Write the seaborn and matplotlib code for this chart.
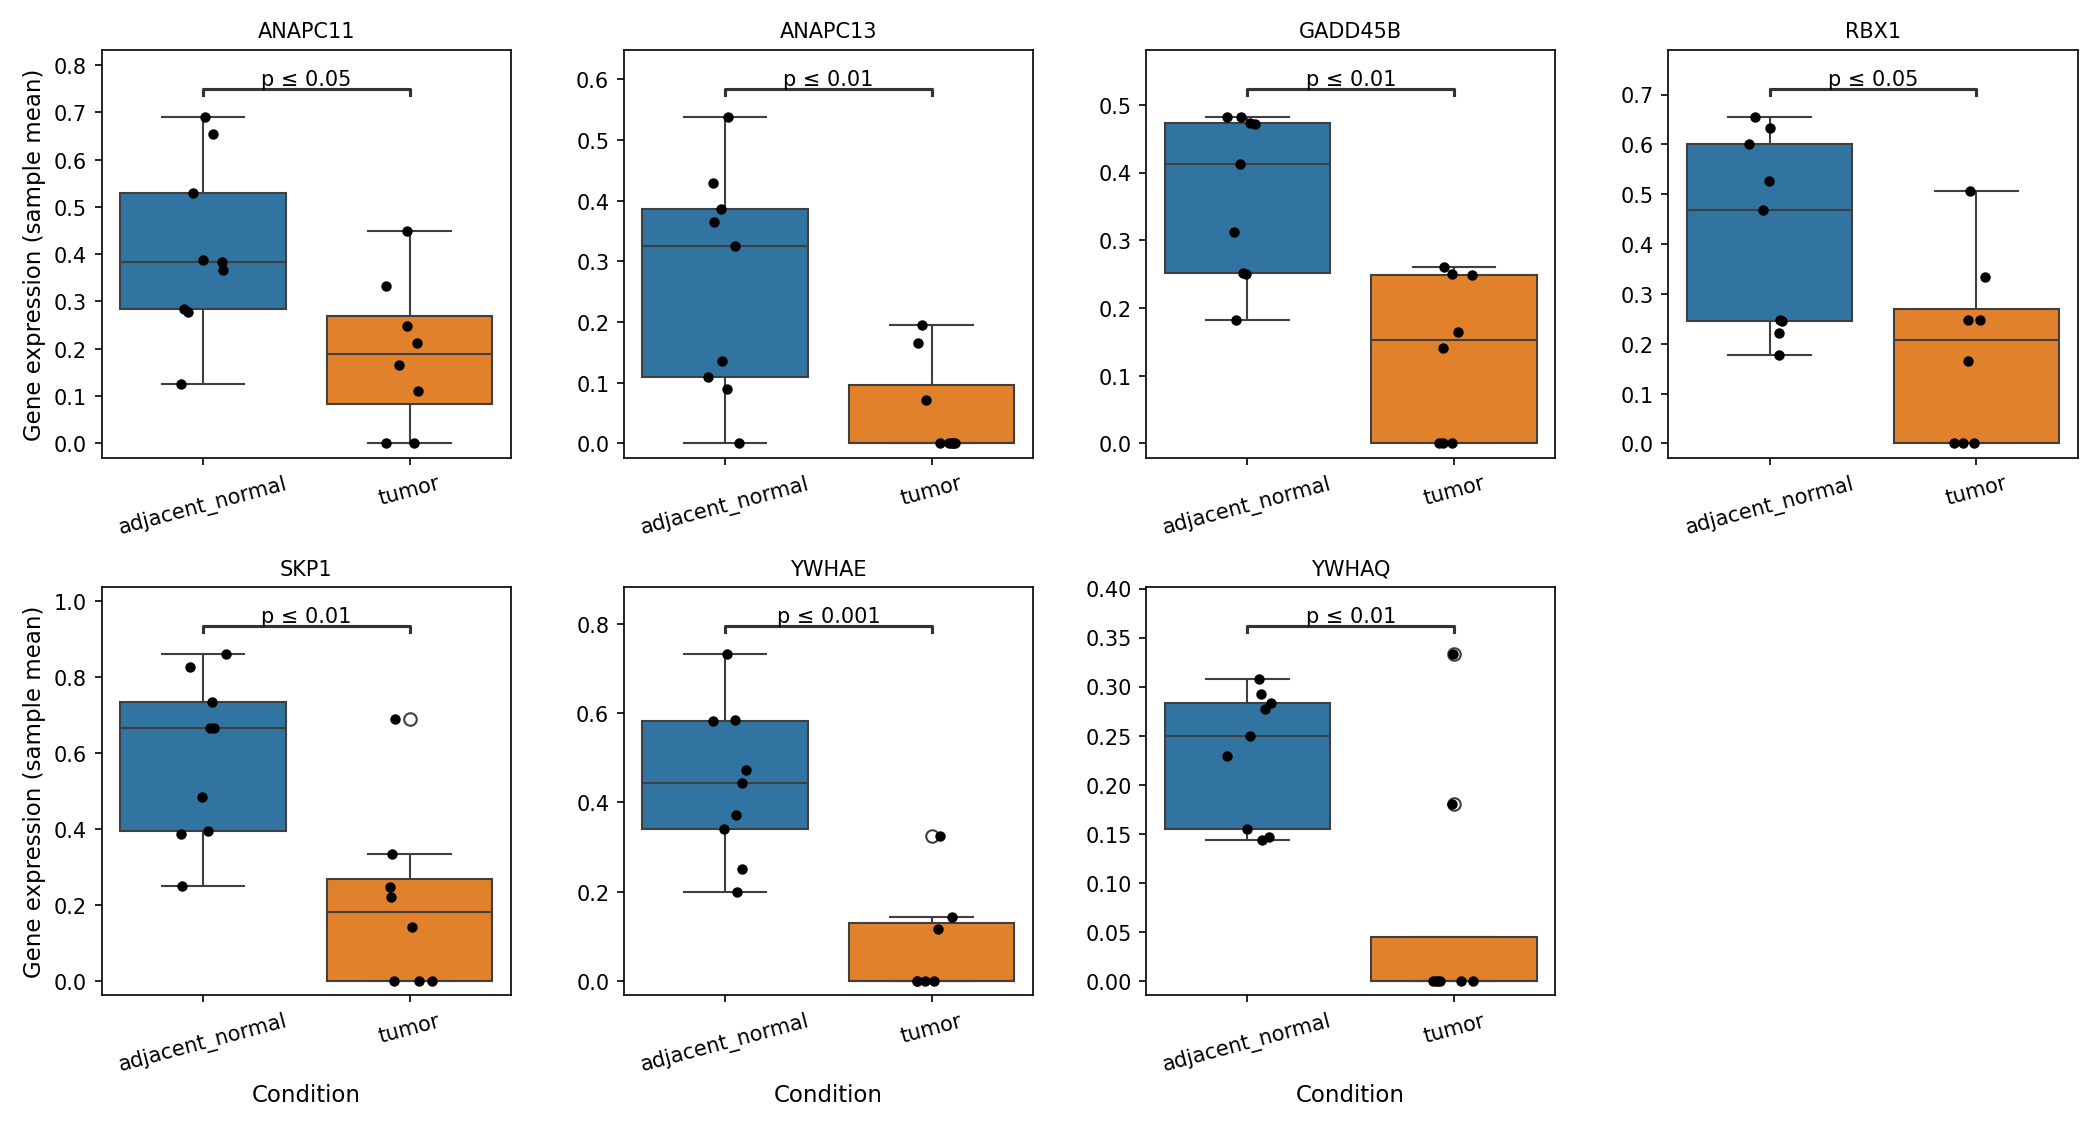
import numpy as np
import pandas as pd
import matplotlib
matplotlib.use("Agg")
import matplotlib.pyplot as plt
import seaborn as sns

genes = ["ANAPC11", "ANAPC13", "GADD45B", "RBX1", "SKP1", "YWHAE", "YWHAQ"]
pvals = ["p ≤ 0.05", "p ≤ 0.01", "p ≤ 0.01", "p ≤ 0.05", "p ≤ 0.01", "p ≤ 0.001", "p ≤ 0.01"]
conditions = ["adjacent_normal", "tumor"]

normal = {
    "ANAPC11": [0.69, 0.655, 0.53, 0.387, 0.383, 0.366, 0.285, 0.277, 0.125],
    "ANAPC13": [0.538, 0.43, 0.387, 0.365, 0.325, 0.135, 0.11, 0.09, 0.0],
    "GADD45B": [0.482, 0.482, 0.471, 0.473, 0.413, 0.312, 0.251, 0.25, 0.182],
    "RBX1": [0.655, 0.632, 0.6, 0.527, 0.468, 0.248, 0.246, 0.222, 0.177],
    "SKP1": [0.86, 0.826, 0.733, 0.665, 0.665, 0.484, 0.393, 0.386, 0.249],
    "YWHAE": [0.733, 0.585, 0.583, 0.472, 0.444, 0.373, 0.341, 0.25, 0.2],
    "YWHAQ": [0.308, 0.292, 0.283, 0.277, 0.25, 0.229, 0.155, 0.147, 0.143],
}
tumor = {
    "ANAPC11": [0.45, 0.333, 0.248, 0.213, 0.166, 0.11, 0.0, 0.0],
    "ANAPC13": [0.195, 0.166, 0.072, 0.0, 0.0, 0.0, 0.0, 0.0],
    "GADD45B": [0.26, 0.25, 0.249, 0.165, 0.141, 0.0, 0.0, 0.0],
    "RBX1": [0.507, 0.333, 0.248, 0.248, 0.165, 0.0, 0.0, 0.0],
    "SKP1": [0.688, 0.333, 0.247, 0.22, 0.142, 0.0, 0.0, 0.0],
    "YWHAE": [0.325, 0.142, 0.115, 0.0, 0.0, 0.0, 0.0],
    "YWHAQ": [0.333, 0.18, 0.0, 0.0, 0.0, 0.0, 0.0, 0.0],
}

np.random.seed(3)

fig, axes = plt.subplots(2, 4, figsize=(14, 7.533), dpi=150)
axes = axes.ravel()
for i, g in enumerate(genes):
    ax = axes[i]
    df = pd.DataFrame({
        "Condition": [conditions[0]] * len(normal[g]) + [conditions[1]] * len(tumor[g]),
        "value": normal[g] + tumor[g],
    })
    sns.boxplot(data=df, x="Condition", y="value", hue="Condition", order=conditions,
                palette=["#1f77b4", "#ff7f0e"], saturation=0.75, ax=ax, legend=False,
                flierprops=dict(marker="o", markersize=6))
    sns.stripplot(data=df, x="Condition", y="value", order=conditions, color="black",
                  size=5, jitter=0.12, ax=ax)
    ymax = max(normal[g] + tumor[g])
    yb = ymax * 1.087
    h = ymax * 0.02
    ax.plot([0, 0, 1, 1], [yb - h, yb, yb, yb - h], color="#333333", lw=1.5)
    ax.text(0.5, yb, pvals[i], ha="center", va="bottom", fontsize=10)
    ax.set_ylim(-ymax * 0.045, ymax * 1.205)
    ax.set_title(g, fontsize=10)
    ax.tick_params(axis="x", rotation=15)
    ax.set_ylabel("Gene expression (sample mean)" if i % 4 == 0 else "", fontsize=11)
    ax.set_xlabel("Condition" if i >= 4 else "", fontsize=11)
axes[7].axis("off")
fig.tight_layout(w_pad=2.5, h_pad=1.0)
fig.savefig("out.png", dpi=150)
